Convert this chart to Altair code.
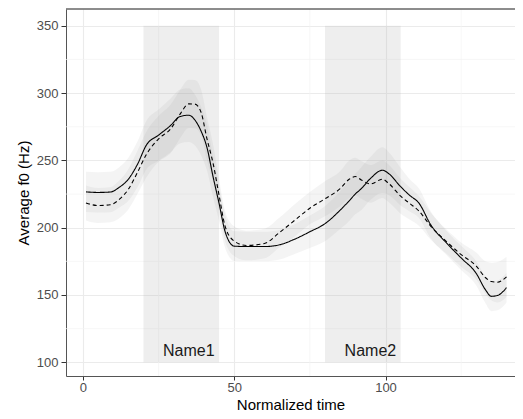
import altair as alt
import pandas as pd

# ---- data ----
time = [1, 5, 9, 12, 15, 18, 21, 25, 29, 32, 35, 37, 39, 41, 43, 45, 47, 50, 54, 60,
        65, 70, 75, 80, 85, 88, 90, 92, 95, 99, 101, 105, 108, 111, 115, 120, 125, 130,
        133, 135, 137, 140]
solid = [226.6, 226.2, 226.5, 230, 236, 247, 261.5, 268.8, 276, 282.5, 283.6, 280, 272,
         259.5, 238, 218, 197, 186.3, 186, 186, 187.3, 191.5, 197, 203, 213, 220, 225,
         229, 236.5, 242.7, 240.3, 230.5, 224, 218.4, 202, 189, 177.5, 166, 154, 149,
         149.6, 155.5]
dashed = [218.4, 216.5, 217, 221, 228.5, 241, 254.5, 266, 273.5, 284, 292, 291.8, 286,
          266, 248, 224, 201, 190, 186.8, 188.3, 196.5, 205.5, 214.5, 221.5, 229, 236,
          238, 235.5, 232.5, 236, 233, 223.4, 218, 212.5, 201, 190, 180, 171.5, 163, 160,
          159.5, 163.5]
solid_se = [15, 15, 15, 15, 16, 17, 18, 19, 20, 20, 20, 19, 18, 17, 15, 13, 12, 11, 11,
            11, 11, 11, 12, 13, 14, 15, 15, 16, 16, 17, 16, 14, 12, 11, 10, 9, 9, 9, 10,
            11, 11, 11]
dashed_se = [13, 13, 13, 14, 15, 16, 17, 17, 18, 18, 18, 18, 17, 16, 14, 12, 11, 11, 11,
             11, 11, 12, 12, 13, 13, 14, 14, 14, 14, 14, 14, 13, 12, 11, 10, 9, 9, 10, 12,
             14, 15, 15]
series_names = ["solid", "dashed"]

region_start = [20, 80]
region_end = [45, 105]
region_low = [100, 100]
region_high = [350, 350]
region_labels = ["Name1", "Name2"]
label_x = [35, 95]
label_y = [108.5, 108.5]

x_ticks = [0, 50, 100]
y_ticks = [100, 150, 200, 250, 300, 350]
x_minor = [25, 75, 125]
y_minor = [125, 175, 225, 275, 325]

# ---- tables ----
rows = []
for name, ys, se in [(series_names[0], solid, solid_se), (series_names[1], dashed, dashed_se)]:
    for t, v, s in zip(time, ys, se):
        rows.append({"time": t, "f0": v, "lo": v - s, "hi": v + s, "series": name})
lines_df = pd.DataFrame(rows)
regions_df = pd.DataFrame({"start": region_start, "end": region_end,
                           "low": region_low, "high": region_high})
labels_df = pd.DataFrame({"x": label_x, "y": label_y, "label": region_labels})
xminor_df = pd.DataFrame({"v": x_minor})
yminor_df = pd.DataFrame({"v": y_minor})

FONT = "Liberation Sans"
W, H = 449, 367
x_scale = alt.Scale(domain=[-5.6, 142.8], nice=False, zero=False)
y_scale = alt.Scale(domain=[89.8, 362.5], nice=False, zero=False)

x_axis = alt.Axis(values=x_ticks, title="Normalized time", titleY=28,
                  titleBaseline="middle", labelPadding=1, tickSize=4, grid=True)
y_axis = alt.Axis(values=y_ticks, title="Average f0 (Hz)", titleX=-43, titleY=H / 2,
                  titleAngle=270, titleBaseline="middle", titleAlign="center",
                  labelPadding=3, grid=True)

X = lambda f: alt.X(f, scale=x_scale, axis=x_axis)
Y = lambda f: alt.Y(f, scale=y_scale, axis=y_axis)

minor_x = alt.Chart(xminor_df).mark_rule(color="#F4F4F4", strokeWidth=0.7).encode(
    x=X("v:Q"))
minor_y = alt.Chart(yminor_df).mark_rule(color="#F4F4F4", strokeWidth=0.7).encode(
    y=Y("v:Q"))

rects = alt.Chart(regions_df).mark_rect(color="#A8A8A8", opacity=0.2).encode(
    x=X("start:Q"), x2="end:Q", y=Y("low:Q"), y2="high:Q")

ribbons = alt.Chart(lines_df).mark_area(color="#808080", opacity=0.09,
                                        interpolate="monotone").encode(
    x=X("time:Q"), y=Y("lo:Q"), y2="hi:Q", detail="series:N")

lines = alt.Chart(lines_df).mark_line(color="black", strokeWidth=1.1,
                                      interpolate="monotone").encode(
    x=X("time:Q"), y=Y("f0:Q"),
    strokeDash=alt.StrokeDash("series:N", legend=None,
                              scale=alt.Scale(domain=series_names, range=[[1, 0], [4, 3]])))

texts = alt.Chart(labels_df).mark_text(font=FONT, fontSize=16, color="#1A1A1A",
                                       baseline="middle", align="center").encode(
    x=X("x:Q"), y=Y("y:Q"), text="label:N")

top_border = alt.Chart(regions_df).mark_rule(color="#666666", strokeWidth=1).encode(
    x=alt.value(0), x2=alt.value(W), y=alt.value(0))

chart = alt.layer(minor_x, minor_y, rects, ribbons, lines, texts, top_border).properties(
    width=W, height=H,
    padding={"left": 58, "top": 1, "right": 0, "bottom": 35},
    autosize=alt.AutoSizeParams(type="none"),
).configure_view(stroke=None).configure_axis(
    domain=True, domainColor="#555555", domainWidth=1,
    gridColor="#EBEBEB", gridWidth=1.1, tickColor="#333333", tickSize=5,
    labelFont=FONT, labelFontSize=13, labelColor="#4D4D4D",
    titleFont=FONT, titleFontSize=15, titleColor="black", titleFontWeight="normal",
)

chart.save("out.html", embed_options={"renderer": "svg", "actions": False})
